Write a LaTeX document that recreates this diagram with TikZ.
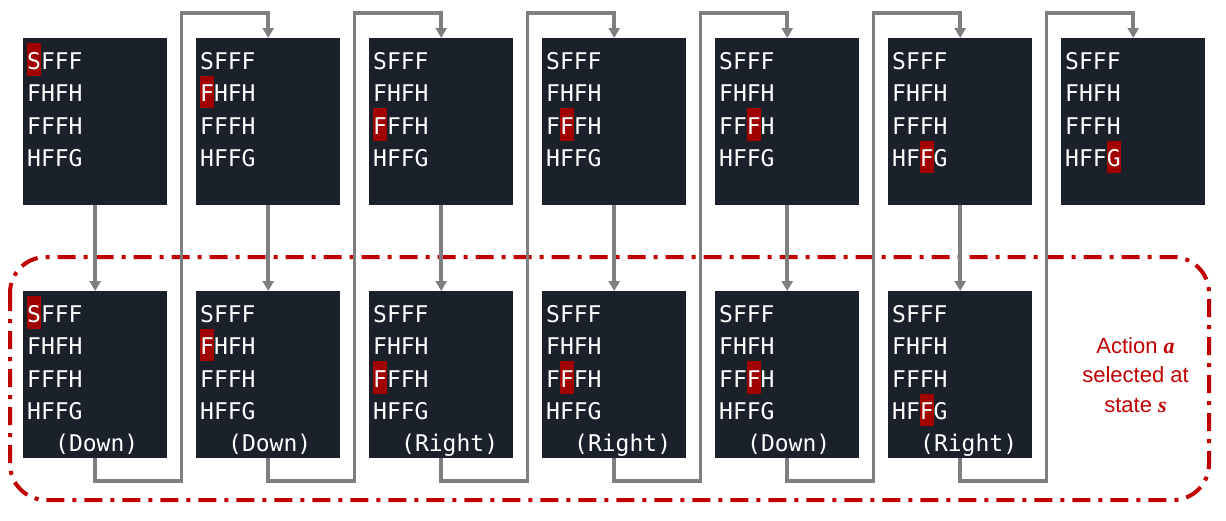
\documentclass[tikz,border=0pt]{standalone}
\usepackage{fontspec}
\setmainfont{Liberation Sans}
\newfontfamily\boardfont{DejaVu Sans Mono}
\newfontfamily\varfont{Liberation Serif}
\usepackage{tikz}
\usetikzlibrary{arrows.meta, positioning}
\definecolor{boardbg}{RGB}{27,33,43}
\definecolor{cellred}{RGB}{160,0,0}
\definecolor{framered}{RGB}{192,0,0}
\definecolor{flowgray}{RGB}{127,127,127}

\begin{document}
\begin{tikzpicture}[x=1pt, y=-1pt,
  board/.style={fill=boardbg, minimum width=144pt, minimum height=167pt, inner sep=0, anchor=north west},
  cell/.style={text=white, inner sep=0, anchor=base west, font=\boardfont\fontsize{23}{23}\selectfont},
  hl/.style={fill=cellred},
  flow/.style={draw=flowgray, line width=3.5pt, -{Triangle[length=10pt, width=11pt]}},
  frame/.style={draw=framered, line width=4pt, rounded corners=36pt, dash pattern=on 18pt off 8pt on 4pt off 8pt},
  note/.style={text=framered, align=center, font=\fontsize{22}{29.5}\selectfont}]
\useasboundingbox (0,0) rectangle (1226,520);
\draw [frame] (10,257) rectangle (1209,500);
\foreach \i/\c/\r in {1/0/0, 2/0/1, 3/0/2, 4/1/2, 5/2/2, 6/2/3, 7/3/3} {
  \node [board] (t\i) at ({23+173*(\i-1)},38) {};
  \fill [hl] ([shift={({4+14*\c},{5+32.5*\r})}]t\i.north west) rectangle ++(14,32.5);
  \foreach \row [count=\k from 0] in {SFFF,FHFH,FFFH,HFFG}
    \node [cell] at ([shift={(4,{31+32.5*\k})}]t\i.north west) {\row};
}
\foreach \i/\c/\r/\act in {1/0/0/Down, 2/0/1/Down, 3/0/2/Right, 4/1/2/Right, 5/2/2/Down, 6/2/3/Right} {
  \node [board] (b\i) at ({23+173*(\i-1)},291) {};
  \fill [hl] ([shift={({4+14*\c},{5+32.5*\r})}]b\i.north west) rectangle ++(14,32.5);
  \foreach \row [count=\k from 0] in {SFFF,FHFH,FFFH,HFFG}
    \node [cell] at ([shift={(4,{31+32.5*\k})}]b\i.north west) {\row};
  \node [cell] (a\i) at ([shift={(32,160)}]b\i.north west) {(\act)};
  \draw [flow] (t\i) -- (b\i);
}
\foreach \i [evaluate=\i as \j using int(\i+1)] in {1,...,6} {
  \coordinate (g\i) at ({181.5+173*(\i-1)},13);
  \coordinate (h\i) at ({181.5+173*(\i-1)},481);
  \draw [flow] (b\i.south) |- (h\i) -- (g\i) -| (t\j.north);
}
\node [note] (note) at (1135.5,375) {Action {\varfont\bfseries\itshape a}\\selected at\\state {\varfont\bfseries\itshape s}};
\end{tikzpicture}
\end{document}
